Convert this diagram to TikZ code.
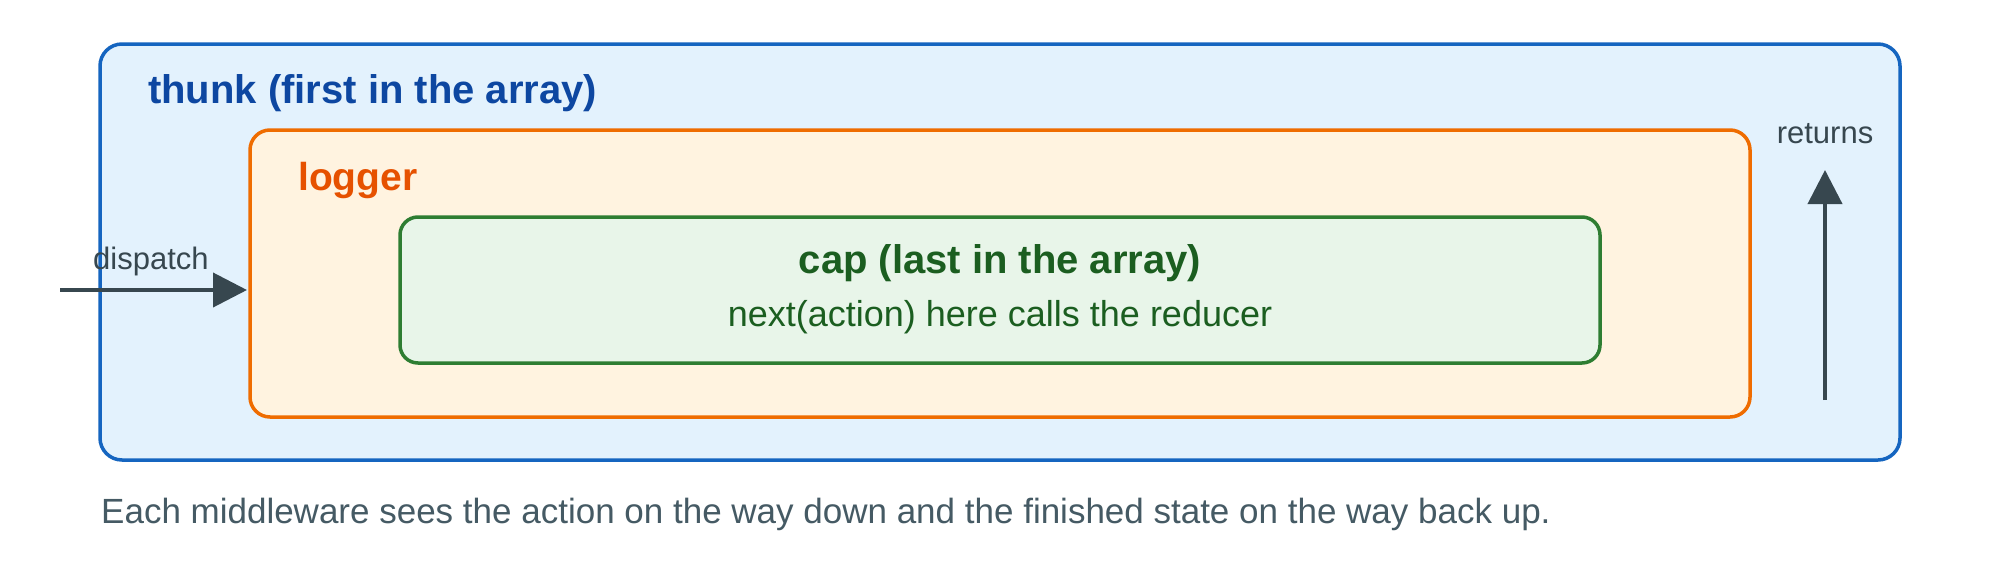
\documentclass[tikz,border=0pt]{standalone}
\usepackage{fontspec}
\setmainfont{Liberation Sans}
\usetikzlibrary{arrows.meta}
\definecolor{bluestroke}{HTML}{1565C0}
\definecolor{bluefill}{HTML}{E3F2FD}
\definecolor{bluetext}{HTML}{0D47A1}
\definecolor{orstroke}{HTML}{EF6C00}
\definecolor{orfill}{HTML}{FFF3E0}
\definecolor{ortext}{HTML}{E65100}
\definecolor{grstroke}{HTML}{2E7D32}
\definecolor{grfill}{HTML}{E8F5E9}
\definecolor{grtext}{HTML}{1B5E20}
\definecolor{arrowc}{HTML}{37474F}
\definecolor{captc}{HTML}{455A64}
\tikzset{
  layerbox/.style={draw, line width=3.5pt, inner sep=0pt, outer sep=0pt},
  headtxt/.style={inner sep=0pt, font=\fontsize{40}{48}\selectfont\bfseries},
  labeltxt/.style={inner sep=0pt, text=arrowc, font=\fontsize{31}{37}\selectfont},
  flowarrow/.style={draw=arrowc, line width=4pt, -{Triangle[length=34pt,width=34pt]}},
}
\begin{document}
\begin{tikzpicture}[x=1pt,y=-1pt]
\useasboundingbox[fill=white] (0,0) rectangle (2000,560);
% boxes
\node[layerbox, draw=bluestroke, fill=bluefill, rounded corners=22pt,
      minimum width=1800pt, minimum height=416pt] (thunk) at (1000,252) {};
\node[layerbox, draw=orstroke, fill=orfill, rounded corners=20pt,
      minimum width=1500pt, minimum height=287pt] (logger) at (1000,273.5) {};
\node[layerbox, draw=grstroke, fill=grfill, rounded corners=18pt,
      minimum width=1200pt, minimum height=146pt] (cap) at (1000,290) {};
% titles
\node[headtxt, text=bluetext, anchor=base west] (thunktitle) at (148,103) {thunk (first in the array)};
\node[headtxt, text=ortext, anchor=base west, font=\fontsize{39}{47}\selectfont\bfseries] (loggertitle) at (298,190) {logger};
\node[headtxt, text=grtext, anchor=base] (captitle) at (1000,273) {cap (last in the array)};
\node[inner sep=0pt, text=grtext, anchor=base, font=\fontsize{36}{43}\selectfont] (capnote) at (1000,326) {next(action) here calls the reducer};
% dispatch arrow
\coordinate (dstart) at (60,290);
\coordinate (dend) at (247,290);
\draw[flowarrow] (dstart) -- (dend);
\node[labeltxt, anchor=base west] (dlabel) at (93,269) {dispatch};
% returns arrow
\coordinate (rstart) at (1825,400);
\coordinate (rend) at (1825,170);
\draw[flowarrow] (rstart) -- (rend);
\node[labeltxt, anchor=base] (rlabel) at (1825,143) {returns};
% caption
\node[inner sep=0pt, text=captc, anchor=base west, font=\fontsize{35}{42}\selectfont] (caption) at (101,523) {Each middleware sees the action on the way down and the finished state on the way back up.};
\end{tikzpicture}
\end{document}
